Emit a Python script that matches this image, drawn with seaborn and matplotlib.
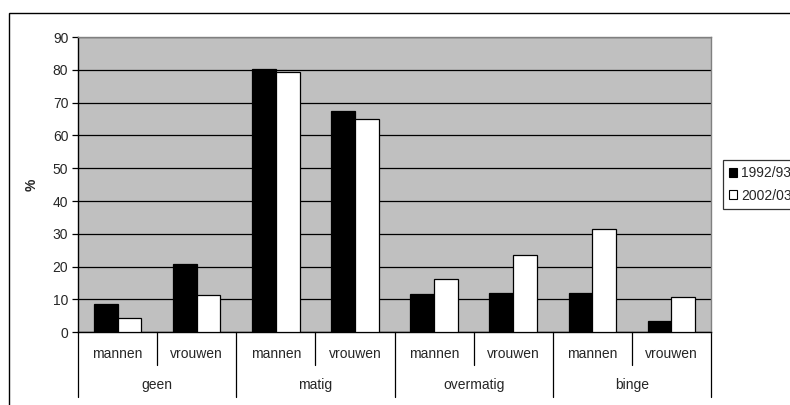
import matplotlib
matplotlib.use("Agg")
import matplotlib.pyplot as plt
import matplotlib.transforms as mtransforms
from matplotlib.patches import Rectangle, Patch
import seaborn as sns
import pandas as pd

# Drinking categories, sexes and survey years
groups = ["geen", "matig", "overmatig", "binge"]
sexes = ["mannen", "vrouwen"]
years = ["1992/93", "2002/03"]

# Percentages per group/sex, one list per survey year
pct_1992 = [8.5, 20.8, 80.2, 67.5, 11.7, 12.1, 12.1, 3.5]
pct_2002 = [4.3, 11.5, 79.4, 65.0, 16.2, 23.6, 31.6, 10.9]

y_ticks = list(range(0, 91, 10))

FS = 10

sns.set_style("white")
plt.rcParams["font.family"] = ["Liberation Sans", "DejaVu Sans"]
plt.rcParams["font.size"] = FS

cats = [f"{g}|{s}" for g in groups for s in sexes]
df = pd.DataFrame({
    "cat": cats * 2,
    "year": [years[0]] * len(cats) + [years[1]] * len(cats),
    "pct": pct_1992 + pct_2002,
})

fig = plt.figure(figsize=(7.9, 4.05), dpi=100)
ax = fig.add_axes([78 / 790, 1 - 332.3 / 405, (711 - 78) / 790, (332.3 - 37) / 405])

sns.barplot(data=df, x="cat", y="pct", hue="year", order=cats, hue_order=years,
            palette=["black", "white"], width=0.6, gap=0, edgecolor="black",
            linewidth=0.9, errorbar=None, legend=False, ax=ax, zorder=3)

ax.set_facecolor("#c0c0c0")
ax.set_xlim(-0.5, len(cats) - 0.5)
ax.set_ylim(0, 90)
ax.set_yticks(y_ticks)
ax.yaxis.grid(True, color="black", linewidth=0.9, zorder=1)
ax.set_axisbelow(True)
ax.set_xlabel("")
ax.set_ylabel("%", fontweight="bold", fontsize=FS, labelpad=10)

for side in ["top", "right"]:
    ax.spines[side].set_color("#808080")
    ax.spines[side].set_linewidth(1)
for side in ["left", "bottom"]:
    ax.spines[side].set_color("black")
    ax.spines[side].set_linewidth(1)

ax.tick_params(axis="y", direction="out", length=4, width=0.9, color="black",
               left=True, labelsize=FS, pad=3)
ax.tick_params(axis="x", length=0, labelbottom=False)

# Two-level category axis drawn below the plot
trans = mtransforms.blended_transform_factory(ax.transData, ax.transAxes)
for i, c in enumerate(cats):
    ax.text(i, -0.0735, c.split("|")[1], transform=trans, ha="center",
            va="center", fontsize=FS)
for gi, g in enumerate(groups):
    ax.text(gi * 2 + 0.5, -0.178, g, transform=trans, ha="center",
            va="center", fontsize=FS)
for gi in range(len(groups)):
    xs = gi * 2 + 0.5
    ax.plot([xs, xs], [0, -0.111], transform=trans, color="black",
            linewidth=0.9, clip_on=False)
for gi in range(len(groups) + 1):
    xg = gi * 2 - 0.5
    ax.plot([xg, xg], [0, -0.219], transform=trans, color="black",
            linewidth=0.9, clip_on=False)

# Chart frame
fig.patches.append(Rectangle((9 / 790, -0.1), 1.2, 1 - 13 / 405 + 0.1,
                             transform=fig.transFigure, fill=False,
                             edgecolor="black", linewidth=1))

handles = [Patch(facecolor="black", edgecolor="black", linewidth=0.8),
           Patch(facecolor="white", edgecolor="black", linewidth=0.8)]
leg = fig.legend(handles, years, loc="upper left",
                 bbox_to_anchor=(722.7 / 790, 1 - 160 / 405),
                 frameon=True, fancybox=False, edgecolor="black",
                 handlelength=0.6, handleheight=0.6, handletextpad=0.25,
                 borderpad=0.45, labelspacing=0.6, fontsize=FS,
                 borderaxespad=0)
leg.get_frame().set_linewidth(0.9)

fig.savefig("out.png", dpi=100)
